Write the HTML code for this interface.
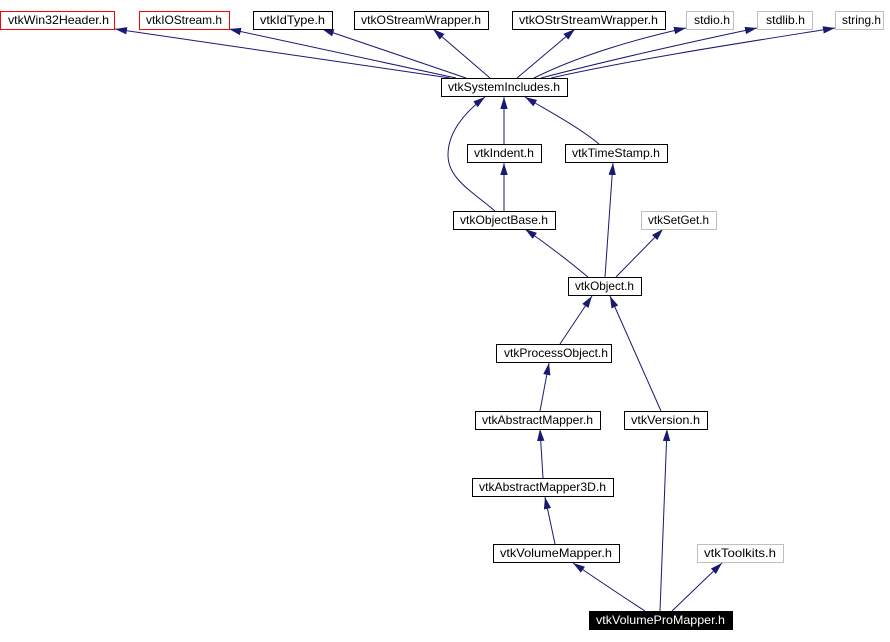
<!DOCTYPE html>
<html><head><meta charset="utf-8"><style>
html,body{margin:0;padding:0;background:#fff;}
svg{display:block;}
text{font-family:"Liberation Sans",Arial,sans-serif;font-size:12px;}
</style></head><body>
<svg width="890" height="642" viewBox="0 0 890 642" xmlns="http://www.w3.org/2000/svg">
<defs>
<marker id="a" markerUnits="userSpaceOnUse" markerWidth="13" markerHeight="9" refX="12" refY="4" orient="auto">
<path d="M0,0.3 L12,4 L0,7.7 z" fill="#191970"/>
</marker>
</defs>
<g fill="none" stroke="#191970" stroke-width="1" marker-end="url(#a)">
<path d="M450,78 L115,29"/>
<path d="M456,78 L229,29"/>
<path d="M466,78 L322,29"/>
<path d="M490,78 L433,29"/>
<path d="M517,78 L575,29"/>
<path d="M534,78 C580,55 640,38 686,28"/>
<path d="M541,78 C610,60 700,40 757,28"/>
<path d="M551,78 C640,58 760,40 835,28"/>
<path d="M504,144 L504,97"/>
<path d="M599,144 C580,128 550,112 525,97"/>
<path d="M495,211 C470,190 448,178 448,155 C448,130 468,110 485,97"/>
<path d="M504,211 L504,163"/>
<path d="M588,277 C570,262 548,245 525,229"/>
<path d="M605,277 L613,163"/>
<path d="M616,277 L663,229"/>
<path d="M560,344 L592,296"/>
<path d="M661,411 L610,296"/>
<path d="M540,411 L549,363"/>
<path d="M543,478 L540,429"/>
<path d="M555,544 L545,497"/>
<path d="M645,611 C625,598 598,580 573,563"/>
<path d="M660,611 L667,429"/>
<path d="M672,611 L722,563"/>
</g>
<g stroke-width="1">
<rect x="0.5" y="11.5" width="114" height="18" fill="#fff" stroke="#ff0000"/>
<rect x="139.5" y="11.5" width="90" height="18" fill="#fff" stroke="#ff0000"/>
<rect x="253.5" y="11.5" width="79" height="18" fill="#fff" stroke="#000"/>
<rect x="354.5" y="11.5" width="134" height="18" fill="#fff" stroke="#000"/>
<rect x="512.5" y="11.5" width="153" height="18" fill="#fff" stroke="#000"/>
<rect x="686.5" y="11.5" width="47" height="18" fill="#fff" stroke="#bfbfbf"/>
<rect x="757.5" y="11.5" width="55" height="18" fill="#fff" stroke="#bfbfbf"/>
<rect x="835.5" y="11.5" width="48" height="18" fill="#fff" stroke="#bfbfbf"/>
<rect x="441.5" y="78.5" width="126" height="18" fill="#fff" stroke="#000"/>
<rect x="467.5" y="144.5" width="74" height="18" fill="#fff" stroke="#000"/>
<rect x="565.5" y="144.5" width="102" height="18" fill="#fff" stroke="#000"/>
<rect x="453.5" y="211.5" width="102" height="18" fill="#fff" stroke="#000"/>
<rect x="641.5" y="211.5" width="75" height="18" fill="#fff" stroke="#bfbfbf"/>
<rect x="568.5" y="277.5" width="73" height="18" fill="#fff" stroke="#000"/>
<rect x="496.5" y="344.5" width="115" height="18" fill="#fff" stroke="#000"/>
<rect x="475.5" y="411.5" width="125" height="18" fill="#fff" stroke="#000"/>
<rect x="624.5" y="411.5" width="83" height="18" fill="#fff" stroke="#000"/>
<rect x="472.5" y="478.5" width="141" height="18" fill="#fff" stroke="#000"/>
<rect x="493.5" y="544.5" width="126" height="18" fill="#fff" stroke="#000"/>
<rect x="697.5" y="544.5" width="86" height="18" fill="#fff" stroke="#bfbfbf"/>
<rect x="589.5" y="611.5" width="143" height="18" fill="#000" stroke="#000"/>
</g>
<g fill="#000">
<text x="8" y="24" textLength="101" lengthAdjust="spacingAndGlyphs">vtkWin32Header.h</text>
<text x="146" y="24" textLength="76" lengthAdjust="spacingAndGlyphs">vtkIOStream.h</text>
<text x="260" y="24" textLength="65" lengthAdjust="spacingAndGlyphs">vtkIdType.h</text>
<text x="361" y="24" textLength="120" lengthAdjust="spacingAndGlyphs">vtkOStreamWrapper.h</text>
<text x="519" y="24" textLength="139" lengthAdjust="spacingAndGlyphs">vtkOStrStreamWrapper.h</text>
<text x="694" y="24" textLength="36" lengthAdjust="spacingAndGlyphs">stdio.h</text>
<text x="766" y="24" textLength="39" lengthAdjust="spacingAndGlyphs">stdlib.h</text>
<text x="842" y="24" textLength="39" lengthAdjust="spacingAndGlyphs">string.h</text>
<text x="448" y="91" textLength="112" lengthAdjust="spacingAndGlyphs">vtkSystemIncludes.h</text>
<text x="474" y="157" textLength="60" lengthAdjust="spacingAndGlyphs">vtkIndent.h</text>
<text x="572" y="157" textLength="88" lengthAdjust="spacingAndGlyphs">vtkTimeStamp.h</text>
<text x="460" y="224" textLength="88" lengthAdjust="spacingAndGlyphs">vtkObjectBase.h</text>
<text x="648" y="224" textLength="61" lengthAdjust="spacingAndGlyphs">vtkSetGet.h</text>
<text x="575" y="290" textLength="59" lengthAdjust="spacingAndGlyphs">vtkObject.h</text>
<text x="504" y="357" textLength="104" lengthAdjust="spacingAndGlyphs">vtkProcessObject.h</text>
<text x="482" y="424" textLength="111" lengthAdjust="spacingAndGlyphs">vtkAbstractMapper.h</text>
<text x="631" y="424" textLength="69" lengthAdjust="spacingAndGlyphs">vtkVersion.h</text>
<text x="479" y="491" textLength="127" lengthAdjust="spacingAndGlyphs">vtkAbstractMapper3D.h</text>
<text x="500" y="557" textLength="112" lengthAdjust="spacingAndGlyphs">vtkVolumeMapper.h</text>
<text x="704" y="557" textLength="72" lengthAdjust="spacingAndGlyphs">vtkToolkits.h</text>
<text x="596" y="624" textLength="129" lengthAdjust="spacingAndGlyphs" fill="#fff">vtkVolumeProMapper.h</text>
</g>
</svg>
</body></html>
